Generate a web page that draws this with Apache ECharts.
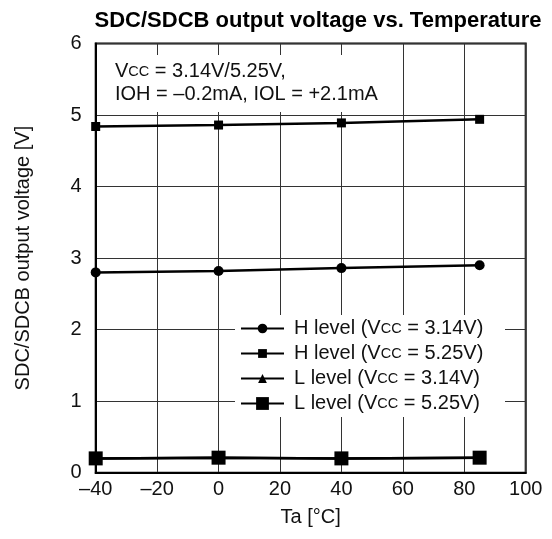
<!DOCTYPE html>
<html><head><meta charset="utf-8">
<script src="https://cdn.jsdelivr.net/npm/echarts@6/dist/echarts.min.js"></script>
<style>html,body{margin:0;padding:0;background:#fff}#c{width:552px;height:539px}</style>
</head><body><div id="c"></div>
<script>
var temps = [-40, 0, 40, 85];
var hLevel314 = [2.80, 2.82, 2.86, 2.90];
var hLevel525 = [4.84, 4.86, 4.89, 4.94];
var lLevel314 = [0.20, 0.21, 0.20, 0.21];
var lLevel525 = [0.20, 0.21, 0.20, 0.21];
var seriesNames = ['H level (Vcc = 3.14V)', 'H level (Vcc = 5.25V)', 'L level (Vcc = 3.14V)', 'L level (Vcc = 5.25V)'];
var xTicks = [-40, -20, 0, 20, 40, 60, 80, 100];
var yTicks = [0, 1, 2, 3, 4, 5, 6];

function pts(vals){ return temps.map(function(t,i){ return [t, vals[i]]; }); }
var FONT = 'Liberation Sans, Arial, sans-serif';
var FS = 20;
var chart = echarts.init(document.getElementById('c'), null, {renderer:'canvas'});
function mk(name, vals, symbol, size){
  return {name:name, type:'line', data:pts(vals), symbol:symbol, symbolSize:size,
    lineStyle:{color:'#000', width:2.5}, itemStyle:{color:'#000'}, showSymbol:true, animation:false, z:3};
}
var legendCenters = [328.5, 353.5, 378.5, 403.5];
var legendIconH = [12, 11, 11, 16];
var legends = seriesNames.map(function(n, i){
  return {orient:'vertical', left:240, top:legendCenters[i] - 10, padding:0,
    itemWidth:43, itemHeight:legendIconH[i], data:[n], selectedMode:false,
    formatter:function(s){ return s.replace('Vcc', 'V{s|CC}'); },
    textStyle:{fontFamily:FONT, fontSize:FS, lineHeight:20, color:'#111', padding:[0,0,0,5],
      rich:{s:{fontFamily:FONT, fontSize:14.5, lineHeight:20, color:'#111'}}}};
});
chart.setOption({
  animation:false,
  title:{text:'SDC/SDCB output voltage vs. Temperature', left:313, top:5, textAlign:'center',
    textStyle:{fontFamily:FONT, fontSize:22, fontWeight:'bold', color:'#000'}},
  grid:{left:95.7, right:26.3, top:43.5, bottom:66.3, show:true, borderColor:'#000', borderWidth:2, backgroundColor:'transparent'},
  xAxis:{type:'value', min:-40, max:100, interval:20,
    name:'Ta [°C]', nameLocation:'middle', nameGap:35,
    nameTextStyle:{fontFamily:FONT, fontSize:FS, color:'#111'},
    axisLine:{show:true, onZero:false, lineStyle:{color:'#000', width:2}},
    axisTick:{show:false},
    axisLabel:{fontFamily:FONT, fontSize:FS, color:'#111', margin:7,
      formatter:function(v){ return xTicks.indexOf(v) >= 0 ? (v < 0 ? '\u2013' + Math.abs(v) : String(v)) : ''; }},
    splitLine:{show:true, lineStyle:{color:'#333', width:1}}},
  yAxis:{type:'value', min:0, max:6, interval:1,
    name:'SDC/SDCB output voltage [V]', nameLocation:'middle', nameGap:62, nameRotate:90,
    nameTextStyle:{fontFamily:FONT, fontSize:FS, color:'#111'},
    axisLine:{show:true, onZero:false, lineStyle:{color:'#000', width:2}},
    axisTick:{show:false},
    axisLabel:{fontFamily:FONT, fontSize:FS, color:'#111', margin:14,
      formatter:function(v){ return yTicks.indexOf(v) >= 0 ? String(v) : ''; }},
    splitLine:{show:true, lineStyle:{color:'#333', width:1}}},
  legend:legends,
  graphic:[
    {type:'rect', left:97, top:55, shape:{width:300, height:57}, style:{fill:'#fff'}, z:1},
    {type:'text', left:115, top:60, z:2, style:{text:'V{s|CC} = 3.14V/5.25V,\nIOH = \u20130.2mA, IOL = +2.1mA',
      fontFamily:FONT, fontSize:FS, fill:'#111', lineHeight:23, rich:{s:{fontFamily:FONT, fontSize:14.5, lineHeight:23, fill:'#111'}}}},
    {type:'rect', left:235, top:315, shape:{width:270, height:102}, style:{fill:'#fff'}, z:1}
  ],
  series:[
    mk(seriesNames[0], hLevel314, 'circle', 10),
    mk(seriesNames[1], hLevel525, 'rect', 9),
    mk(seriesNames[2], lLevel314, 'triangle', 10),
    mk(seriesNames[3], lLevel525, 'rect', 14)
  ]
});
</script></body></html>
